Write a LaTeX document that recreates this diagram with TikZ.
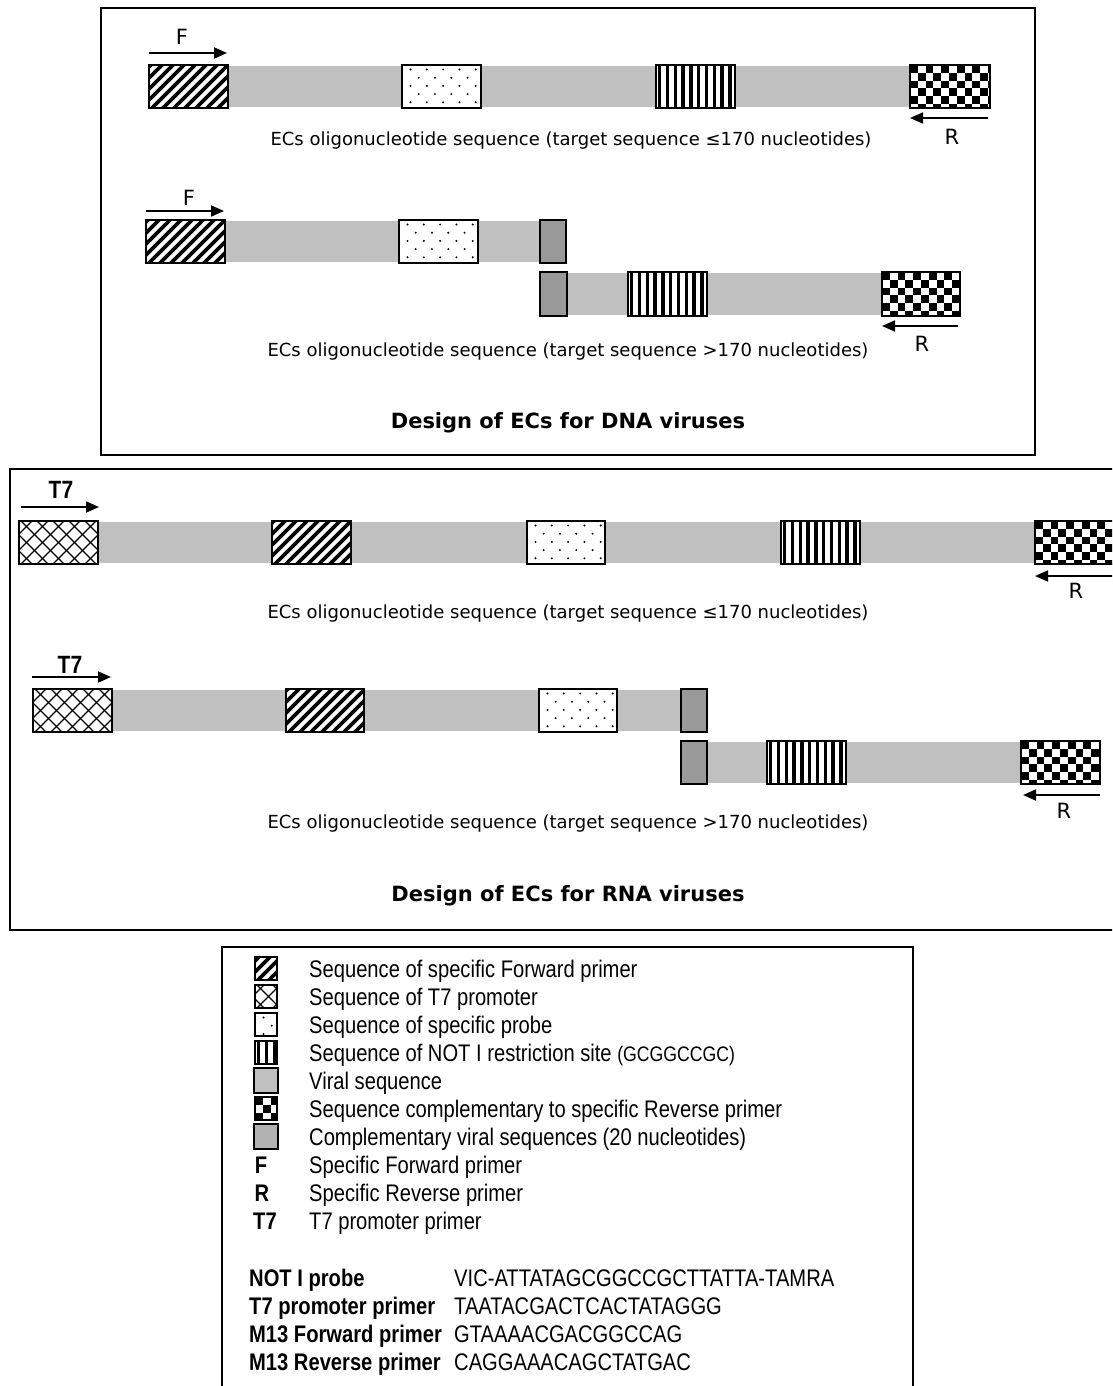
\documentclass[tikz,border=0pt]{standalone}
\usepackage{fontspec}
\setmainfont{DejaVu Sans}
\newfontfamily\narrowfont[FakeStretch=0.84]{Liberation Sans}
\usetikzlibrary{arrows.meta}
\definecolor{virgray}{RGB}{192,192,192}
\definecolor{cvgray}{RGB}{153,153,153}
\definecolor{legcv}{RGB}{178,178,178}
\tikzset{
 boxline/.style={draw=black, line width=1.8pt},
 primer/.style={line width=1.8pt, -{Triangle[length=13pt,width=11pt]}},
 captxt/.style={font=\fontsize{18}{22}\selectfont, inner sep=0pt},
 titletxt/.style={font=\bfseries\fontsize{21}{25}\selectfont, inner sep=0pt},
 primlbl/.style={font=\fontsize{21}{25}\selectfont, inner sep=0pt},
 t7lbl/.style={font=\narrowfont\bfseries\fontsize{25}{28}\selectfont, inner sep=0pt},
 legtxt/.style={font=\narrowfont\fontsize{24}{28}\selectfont, inner sep=0pt, anchor=base west, yshift=-8.5pt},
 legbold/.style={font=\narrowfont\bfseries\fontsize{24}{28}\selectfont, inner sep=0pt, anchor=base west, yshift=-8.5pt},
 legkey/.style={font=\narrowfont\bfseries\fontsize{24}{28}\selectfont, inner sep=0pt, anchor=base, yshift=-8.5pt},
 panelframe/.style={draw=black, line width=1.6pt},
}
\newcommand\ecGray[4]{\fill[virgray] (#1,#2) rectangle (#3,#4);}
\newcommand\ecDark[4]{\filldraw[fill=cvgray, boxline] (#1,#2) rectangle (#3,#4);}
\newcommand\ecHatch[4]{%
 \begin{scope}
 \clip (#1,#2) rectangle (#3,#4);
 \fill[white] (#1,#2) rectangle (#3,#4);
 \foreach \k in {-66,-55,...,99}{\draw[line width=3.8pt] ({#1+\k},{#4+3}) -- ++(56,-56);}
 \end{scope}
 \draw[boxline] (#1,#2) rectangle (#3,#4);}
\newcommand\ecCross[4]{%
 \begin{scope}
 \clip (#1,#2) rectangle (#3,#4);
 \fill[white] (#1,#2) rectangle (#3,#4);
 \foreach \k in {-64,-48,...,96}{\draw[line width=1.1pt] ({#1+\k},{#4+2}) -- ++(56,-56);
   \draw[line width=1.1pt] ({#1+\k},{#2-2}) -- ++(56,56);}
 \end{scope}
 \draw[boxline] (#1,#2) rectangle (#3,#4);}
\newcommand\ecDots[4]{%
 \begin{scope}
 \clip (#1,#2) rectangle (#3,#4);
 \fill[white] (#1,#2) rectangle (#3,#4);
 \foreach \r in {0,...,5}{\foreach \c in {0,...,5}{%
   \fill ({#1+8.5+\c*16.3+mod(\r,2)*8.15},{#2+4.5+\r*8.2}) circle (1.1pt);}}
 \end{scope}
 \draw[boxline] (#1,#2) rectangle (#3,#4);}
\newcommand\ecStripes[4]{%
 \begin{scope}
 \clip (#1,#2) rectangle (#3,#4);
 \fill[white] (#1,#2) rectangle (#3,#4);
 \foreach \k in {0,...,11}{\fill ({#1+2+\k*7.8},{#2-2}) rectangle ++(3.4,52);}
 \end{scope}
 \draw[boxline] (#1,#2) rectangle (#3,#4);}
\newcommand\ecChecker[4]{%
 \begin{scope}
 \clip (#1,#2) rectangle (#3,#4);
 \fill[white] (#1,#2) rectangle (#3,#4);
 \foreach \i in {0,...,11}{\foreach \j in {0,...,6}{%
   \pgfmathtruncatemacro\ecpar{mod(\i+\j,2)}%
   \ifnum\ecpar=0 \fill ({#1+\i*7.8},{#2+\j*7.8}) rectangle ++(7.8,7.8);\fi}}
 \end{scope}
 \draw[boxline] (#1,#2) rectangle (#3,#4);}

\begin{document}
\begin{tikzpicture}[x=1pt,y=-1pt]
\clip (0,0) rectangle (1112,1386);
\fill[white] (0,0) rectangle (1112,1386);

%================ DNA panel =================
\draw[panelframe] (101,8) rectangle (1035,455);
% row A
\ecGray{226}{66}{912}{107}
\ecHatch{149}{65}{228}{108}
\ecDots{402}{65}{481}{108}
\ecStripes{656}{65}{735}{108}
\ecChecker{910}{65}{990}{108}
\coordinate (fAs) at (149,53); \coordinate (fAe) at (227,53);
\draw[primer] (fAs) -- (fAe);
\node[primlbl] (FA) at (182,37) {F};
\coordinate (rAs) at (988,118); \coordinate (rAe) at (910,118);
\draw[primer] (rAs) -- (rAe);
\node[primlbl] (RA) at (952,137) {R};
\node[captxt] (capA) at (571,141) {ECs oligonucleotide sequence (target sequence ≤170 nucleotides)};
% row B
\ecGray{223}{221}{541}{262}
\ecHatch{146}{220}{225}{263}
\ecDots{399}{220}{478}{263}
\ecDark{540}{220}{566}{263}
\ecGray{566}{273}{884}{315}
\ecDark{540}{272}{567}{316}
\ecStripes{628}{272}{707}{316}
\ecChecker{882}{272}{960}{316}
\coordinate (fBs) at (146,211); \coordinate (fBe) at (224,211);
\draw[primer] (fBs) -- (fBe);
\node[primlbl] (FB) at (189,198) {F};
\coordinate (rBs) at (958,326); \coordinate (rBe) at (882,326);
\draw[primer] (rBs) -- (rBe);
\node[primlbl] (RB) at (922,344) {R};
\node[captxt] (capB) at (568,352) {ECs oligonucleotide sequence (target sequence >170 nucleotides)};
\node[titletxt] (titleDNA) at (568,423) {Design of ECs for DNA viruses};

%================ RNA panel =================
\draw[panelframe] (10,469) rectangle (1125,930);
% row C
\ecGray{96}{522}{1037}{563}
\ecCross{19}{521}{98}{564}
\ecHatch{272}{521}{351}{564}
\ecDots{527}{521}{605}{564}
\ecStripes{781}{521}{860}{564}
\ecChecker{1035}{521}{1114}{564}
\coordinate (tCs) at (21,507); \coordinate (tCe) at (99,507);
\draw[primer] (tCs) -- (tCe);
\node[t7lbl] (TC) at (61,490) {T7};
\coordinate (rCs) at (1114,576); \coordinate (rCe) at (1035,576);
\draw[primer] (rCs) -- (rCe);
\node[primlbl] (RC) at (1076,591) {R};
\node[captxt] (capC) at (568,614) {ECs oligonucleotide sequence (target sequence ≤170 nucleotides)};
% row D
\ecGray{110}{690}{682}{731}
\ecCross{33}{689}{112}{732}
\ecHatch{286}{689}{364}{732}
\ecDots{539}{689}{617}{732}
\ecDark{681}{689}{707}{732}
\ecGray{706}{742}{1023}{783}
\ecDark{681}{741}{707}{784}
\ecStripes{767}{741}{846}{784}
\ecChecker{1021}{741}{1100}{784}
\coordinate (tDs) at (32,677); \coordinate (tDe) at (111,677);
\draw[primer] (tDs) -- (tDe);
\node[t7lbl] (TD) at (70,665) {T7};
\coordinate (rDs) at (1100,795); \coordinate (rDe) at (1023,795);
\draw[primer] (rDs) -- (rDe);
\node[primlbl] (RD) at (1064,811) {R};
\node[captxt] (capD) at (568,824) {ECs oligonucleotide sequence (target sequence >170 nucleotides)};
\node[titletxt] (titleRNA) at (568,896) {Design of ECs for RNA viruses};

%================ Legend =================
\draw[panelframe] (222,947) rectangle (913,1400);
\ecHatch{255}{957}{277}{980}
\ecCross{255}{985}{277}{1008}
\ecDots{255}{1013}{277}{1036}
\ecStripes{255}{1041}{277}{1064}
\filldraw[fill=virgray, boxline] (254,1068) rectangle (278,1093);
\ecChecker{255}{1097}{277}{1120}
\filldraw[fill=legcv, boxline] (254,1124) rectangle (278,1149);
\node[legtxt] (l1) at (309,969) {Sequence of specific Forward primer};
\node[legtxt] (l2) at (309,997) {Sequence of T7 promoter};
\node[legtxt] (l3) at (309,1025) {Sequence of specific probe};
\node[legtxt] (l4) at (309,1053) {Sequence of NOT I restriction site {\fontsize{21}{24}\selectfont (GCGGCCGC)}};
\node[legtxt] (l5) at (309,1081) {Viral sequence};
\node[legtxt] (l6) at (309,1109) {Sequence complementary to specific Reverse primer};
\node[legtxt] (l7) at (309,1137) {Complementary viral sequences (20 nucleotides)};
\node[legkey] (lF) at (261,1165) {F};
\node[legtxt] (l8) at (309,1165) {Specific Forward primer};
\node[legkey] (lR) at (262,1193) {R};
\node[legtxt] (l9) at (309,1193) {Specific Reverse primer};
\node[legkey] (lT) at (265,1221) {T7};
\node[legtxt] (l10) at (309,1221) {T7 promoter primer};
\node[legbold] (s1) at (249,1278) {NOT I probe};
\node[legtxt] (v1) at (454,1278) {VIC-ATTATAGCGGCCGCTTATTA-TAMRA};
\node[legbold] (s2) at (249,1306) {T7 promoter primer};
\node[legtxt] (v2) at (454,1306) {TAATACGACTCACTATAGGG};
\node[legbold] (s3) at (249,1334) {M13 Forward primer};
\node[legtxt] (v3) at (454,1334) {GTAAAACGACGGCCAG};
\node[legbold] (s4) at (249,1362) {M13 Reverse primer};
\node[legtxt] (v4) at (454,1362) {CAGGAAACAGCTATGAC};
\end{tikzpicture}
\end{document}
